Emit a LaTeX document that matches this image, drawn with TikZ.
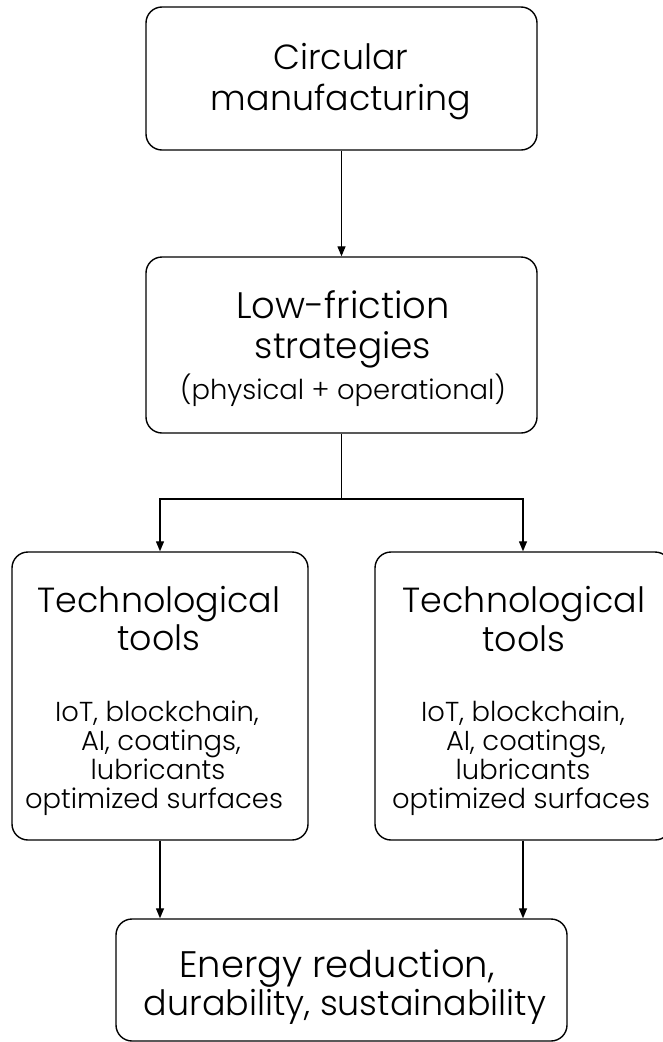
\documentclass[tikz,border=0pt]{standalone}
\usepackage{fontspec}
\setmainfont{Poppins}[UprightFont={* Light}]
\usetikzlibrary{arrows.meta}
\begin{document}
\begin{tikzpicture}[x=1bp,y=-1bp,
  box/.style={draw, line width=1.4bp, rounded corners=16bp, inner sep=0pt},
  txt/.style={anchor=base, inner sep=0pt, font=\fontsize{#1}{#1}\selectfont},
  big/.style={txt=35},
  small/.style={txt=27.5},
  link/.style={line width=1.3bp, -{Triangle[length=10bp,width=8bp]}},
  plain/.style={line width=1.3bp}]
\useasboundingbox (0,0) rectangle (663,1042);

% boxes
\node[box, minimum width=391bp, minimum height=143bp] (top) at (341.5,78.5) {};
\node[box, minimum width=391bp, minimum height=176bp] (mid) at (341.5,345) {};
\node[box, minimum width=296bp, minimum height=288bp] (left) at (160,696) {};
\node[box, minimum width=296bp, minimum height=288bp] (right) at (523,696) {};
\node[box, minimum width=451bp, minimum height=122bp] (bottom) at (341.5,980) {};

% texts
\node[big] (t1) at (341,69) {Circular};
\node[big] (t2) at (341,110) {manufacturing};

\node[txt=37] (m1) at (343,318) {Low-friction};
\node[txt=36] (m2) at (343,358) {strategies};
\node[small] (m3) at (343,399) {(physical + operational)};

\node[big] (l1) at (159,612) {Technological};
\node[big] (l2) at (159,650) {tools};
\node[small] (l3) at (157,721) {IoT, blockchain,};
\node[small] (l4) at (161,750) {AI, coatings,};
\node[small] (l5) at (158,779) {lubricants};
\node[small] (l6) at (154,808) {optimized surfaces};

\node[big] (r1) at (524,612) {Technological};
\node[big] (r2) at (524,651) {tools};
\node[small] (r3) at (523,721) {IoT, blockchain,};
\node[small] (r4) at (526,750) {AI, coatings,};
\node[small] (r5) at (523,779) {lubricants};
\node[small] (r6) at (521,808) {optimized surfaces};

\node[txt=37] (b1) at (337,977) {Energy reduction,};
\node[txt=35] (b2) at (345,1015) {durability, sustainability};

% connectors
\coordinate (split) at (341.5,499);
\draw[link] (top.south) -- (mid.north);
\draw[plain] (mid.south) -- (split);
\draw[link] (split) -| (left.north);
\draw[link] (split) -| (right.north);
\draw[link] (left.south) -- (left.south |- bottom.north);
\draw[link] (right.south) -- (right.south |- bottom.north);
\end{tikzpicture}
\end{document}
